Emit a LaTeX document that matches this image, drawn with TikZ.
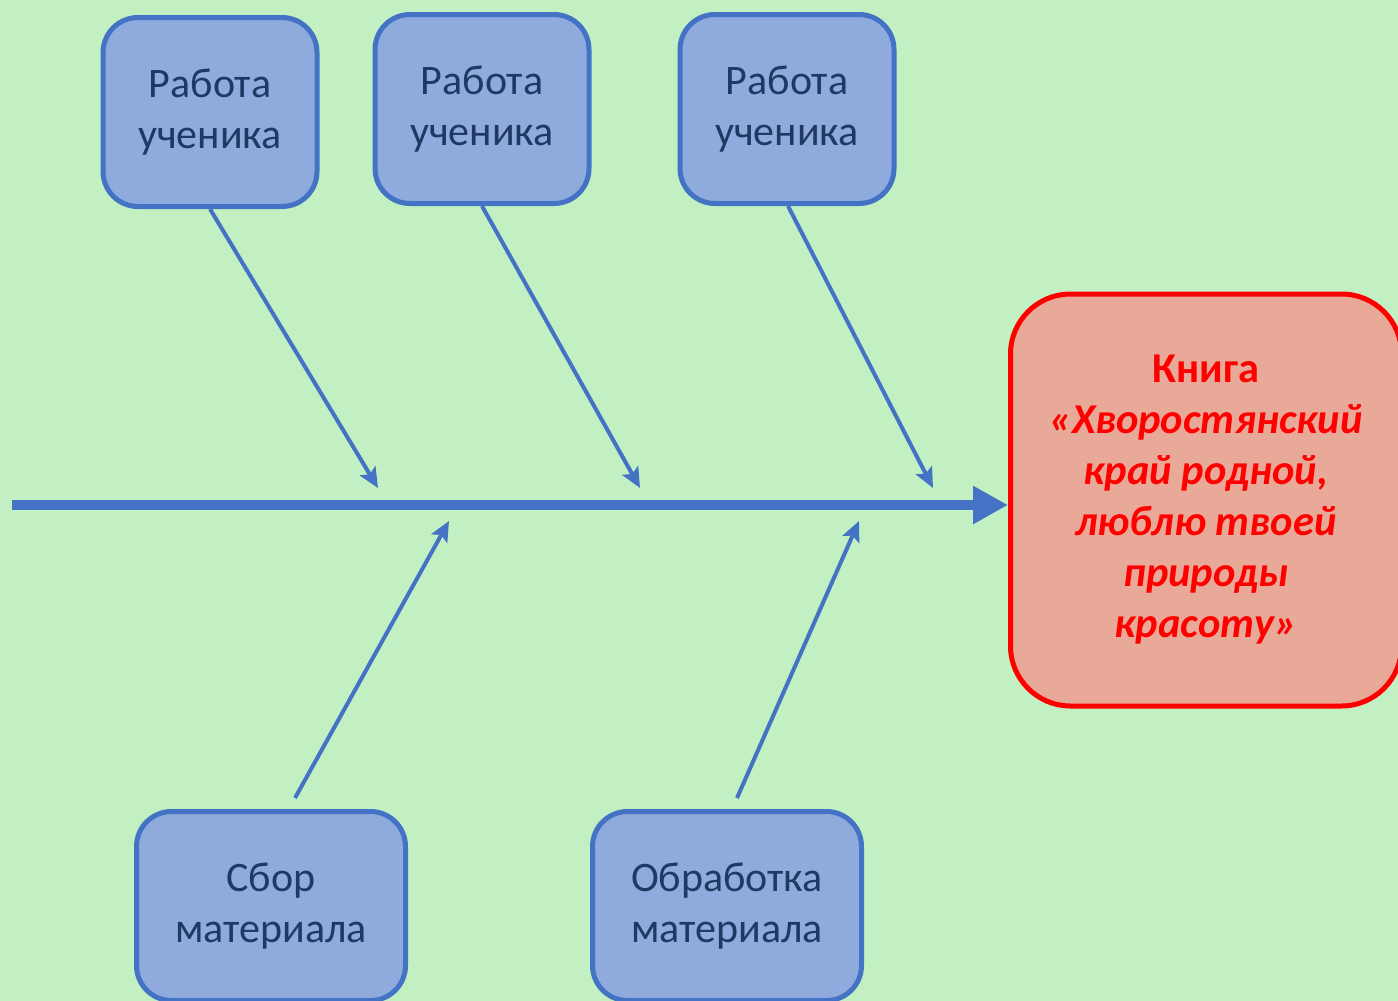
\documentclass[tikz,border=0pt]{standalone}
\usepackage{fontspec}
\setmainfont{Carlito}
\usetikzlibrary{arrows.meta}

\definecolor{bgGreen}{HTML}{C2F0C2}
\definecolor{boxFill}{HTML}{8FAADC}
\definecolor{boxLine}{HTML}{4472C4}
\definecolor{boxText}{HTML}{1F3864}
\definecolor{bookFill}{HTML}{E8A999}

\begin{document}
\begin{tikzpicture}[x=1pt,y=-1pt,
  cause/.style={draw=boxLine, fill=boxFill, line width=5pt, rounded corners=35pt,
    minimum width=214pt, minimum height=189pt, inner sep=0pt, align=center,
    text=boxText, font=\fontsize{42}{51}\selectfont},
  wide/.style={minimum width=269pt},
  book/.style={draw=red, fill=bookFill, line width=5pt, rounded corners=60pt,
    minimum width=391pt, minimum height=412pt, inner sep=0pt, align=center,
    text=red, font=\fontsize{42.5}{51}\selectfont\bfseries},
  spine/.style={draw=boxLine, line width=10pt, -{Triangle[length=35pt,width=36pt]}},
  branch/.style={color=boxLine, line width=4pt, -{Stealth[length=20pt,width=18pt,inset=4pt]}}]
  \clip (0,0) rectangle (1398,1001);
  \fill[bgGreen] (0,0) rectangle (1398,1001);

  % causes
  \node[cause] (b1) at (210,112) {Работа\\ученика};
  \node[cause] (b2) at (482,109) {Работа\\ученика};
  \node[cause] (b3) at (787,109) {Работа\\ученика};
  \node[cause,wide] (b4) at (271,906) {Сбор\\материала};
  \node[cause,wide] (b5) at (727,906) {Обработка\\материала};

  % effect
  \node[book] (rb) at (1206,500) {Книга\\\itshape «Хворостянский\\\itshape край родной,\\\itshape люблю твоей\\\itshape природы\\\itshape красоту»};

  % points on the spine
  \coordinate (tail) at (12,505);
  \coordinate (c1) at (378,488);
  \coordinate (c2) at (640,488);
  \coordinate (c3) at (933,488);
  \coordinate (c4) at (449,521);
  \coordinate (c5) at (859,521);

  \path[spine] (tail) -- (tail -| rb.west);
  \path[branch]
  (b1.south) edge (c1)
  (b2.south) edge (c2)
  ([xshift=1pt]b3.south) edge (c3)
  ([xshift=24pt,yshift=11pt]b4.north) edge (c4)
  ([xshift=10pt,yshift=11pt]b5.north) edge (c5)
;
\end{tikzpicture}
\end{document}
